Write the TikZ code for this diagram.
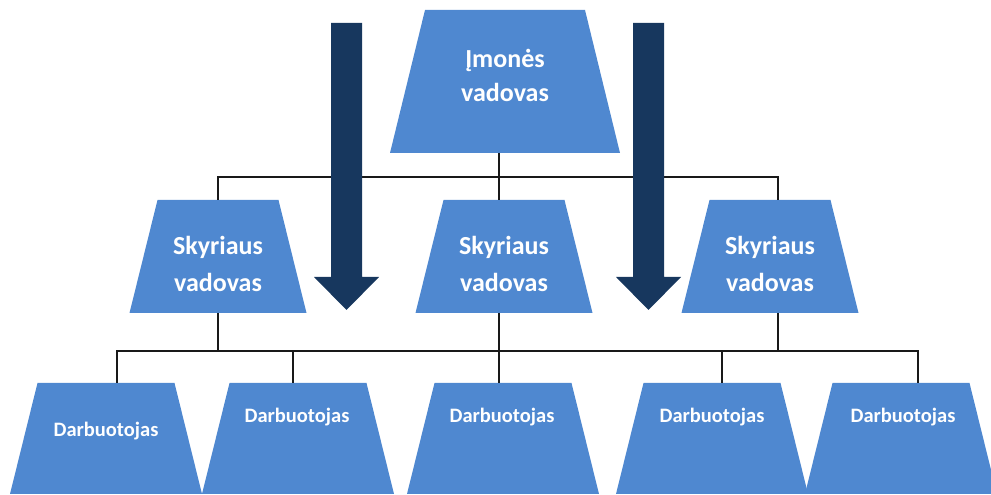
\documentclass[tikz,border=0pt]{standalone}
\usepackage{fontspec}
\setmainfont{Carlito}
\definecolor{boxblue}{HTML}{4F88D0}
\definecolor{navy}{HTML}{17375E}
\tikzset{
  frame/.style={rectangle, draw=none, inner sep=0pt, outer sep=0pt},
  topbox/.style={frame, minimum width=230pt, minimum height=143pt},
  midbox/.style={frame, minimum width=177pt, minimum height=113pt},
  botbox/.style={frame, minimum width=192pt, minimum height=111pt},
  toptext/.style={text=white, align=center, inner sep=0pt,
    font=\fontsize{26}{34}\selectfont\bfseries},
  midtext/.style={text=white, align=center, inner sep=0pt,
    font=\fontsize{26}{37}\selectfont\bfseries},
  smalltext/.style={text=white, inner sep=0pt, anchor=base,
    font=\fontsize{20.5}{24}\selectfont\bfseries},
  wire/.style={draw=black!90, line width=1.3pt},
  bigarrow/.style={fill=navy}
}
% fill a trapezoid inside a frame node, top edge pulled in by #2 on each side
\newcommand\trapfill[2]{%
  \fill[boxblue] (#1.south west) -- (#1.south east)
    -- ([xshift=-#2pt]#1.north east) -- ([xshift=#2pt]#1.north west) -- cycle;}
\begin{document}
\begin{tikzpicture}[x=1pt, y=1pt]
\useasboundingbox (0,0) rectangle (991,495);

% company head
\node[topbox] (top) at (505,413.5) {};
% department heads
\node[midbox] (m1) at (218,238.5) {};
\node[midbox] (m2) at (504,238.5) {};
\node[midbox] (m3) at (770,238.5) {};
% employees
\node[botbox] (b1) at (106,56.5) {};
\node[botbox] (b2) at (298,56.5) {};
\node[botbox] (b3) at (503,56.5) {};
\node[botbox] (b4) at (712,56.5) {};
\node[botbox] (b5) at (901,56.5) {};

\trapfill{top}{35}
\foreach \n in {m1,m2,m3}{\trapfill{\n}{28}}
\foreach \n in {b1,b2,b3,b4,b5}{\trapfill{\n}{27.5}}

\node[toptext] (topt) at (505,420) {Įmonės\\vadovas};
\node[midtext] (m1t) at (218,231) {Skyriaus\\vadovas};
\node[midtext] (m2t) at (504,231) {Skyriaus\\vadovas};
\node[midtext] (m3t) at (770,231) {Skyriaus\\vadovas};
\node[smalltext] (b1t) at (106,58) {Darbuotojas};
\node[smalltext] (b2t) at (297,72) {Darbuotojas};
\node[smalltext] (b3t) at (502,72) {Darbuotojas};
\node[smalltext] (b4t) at (712,72) {Darbuotojas};
\node[smalltext] (b5t) at (903,72) {Darbuotojas};

% first level of the tree
\draw[wire] ([xshift=-6pt]top.south) -- ([xshift=-5pt]m2.north);
\draw[wire] (m1.north) -- ++(0,23) -| ([xshift=8pt]m3.north);

% second level of the tree
\draw[wire] ([xshift=11pt]b1.north) -- ++(0,32) -| ([xshift=17pt]b5.north);
\draw[wire] (m1.south) -- ++(0,-38);
\draw[wire] ([xshift=-5pt]m2.south) -- ([xshift=-4pt]b3.north);
\draw[wire] ([xshift=8pt]m3.south) -- ++(0,-38);
\draw[wire] ([xshift=-5pt]b2.north) -- ++(0,32);
\draw[wire] ([xshift=10pt]b4.north) -- ++(0,32);

% downward arrows
\coordinate (a1) at (346.5,472);
\coordinate (a2) at (648.5,472);
\foreach \a in {a1,a2}{
  \fill[bigarrow] ([xshift=-15.5pt]\a) -- ([xshift=15.5pt]\a) -- ++(0,-254)
    -- ++(17,0) -- ++(-32.5,-33) -- ++(-32.5,33) -- ++(17,0) -- cycle;
}
\end{tikzpicture}
\end{document}
